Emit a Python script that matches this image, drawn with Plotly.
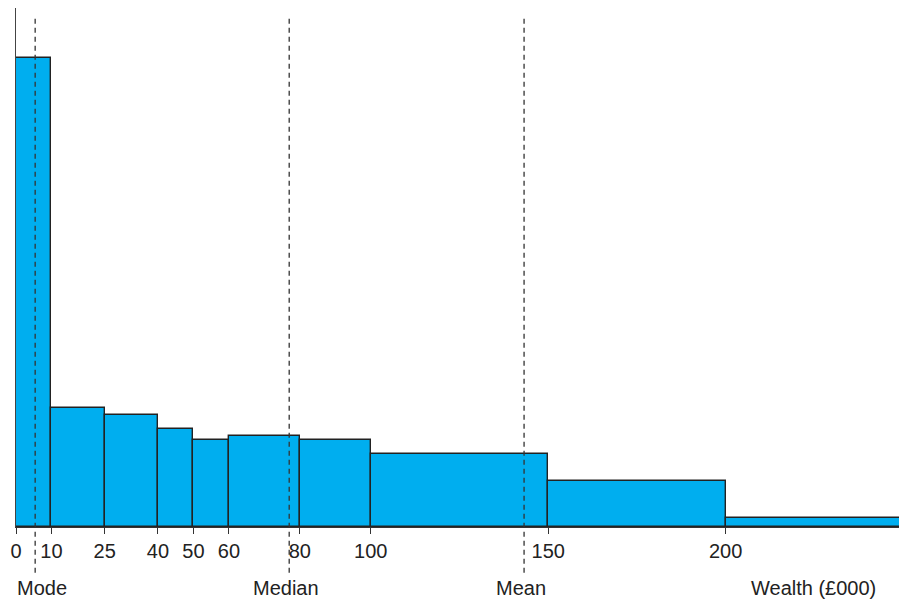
import plotly.graph_objects as go

# Bin edges (£000) and bar heights (frequency density, arbitrary units)
edges = [0, 10, 25, 40, 50, 60, 80, 100, 150, 200, 250]
heights = [47.0, 11.9, 11.2, 9.8, 8.7, 9.15, 8.7, 7.3, 4.6, 0.95]
tick_labels = ["0", "10", "25", "40", "50", "60", "80", "100", "150", "200", ""]

# Summary statistics (£000)
stat_names = ["Mode", "Median", "Mean"]
stat_values = [5.4, 77.0, 143.2]
label_positions = [7.2, 76.1, 142.3]
axis_title = "Wealth (£000)"
axis_title_pos = 224.9

X_RANGE = [0, 250]
Y_RANGE = [0, 52]

centers = [(a + b) / 2 for a, b in zip(edges[:-1], edges[1:])]
widths = [b - a for a, b in zip(edges[:-1], edges[1:])]

FONT = "Liberation Sans, Arial, Helvetica, sans-serif"

fig = go.Figure()
fig.add_trace(go.Bar(
    x=centers, y=heights, width=widths,
    marker=dict(color="#00AEEF", line=dict(color="#222222", width=1.4)),
    cliponaxis=False, hoverinfo="skip", showlegend=False,
))

shapes = []
for v in stat_values:
    shapes.append(dict(type="line", xref="x", yref="paper",
                       x0=v, x1=v, y0=-0.088, y1=0.983,
                       line=dict(color="#333333", width=1.3, dash="5px,4px")))

annotations = []
for name, pos in zip(stat_names, label_positions):
    annotations.append(dict(x=pos, y=-0.118, xref="x", yref="paper",
                            text=name, showarrow=False, xanchor="center",
                            yanchor="middle",
                            font=dict(family=FONT, size=20, color="#222222")))
annotations.append(dict(x=axis_title_pos, y=-0.118, xref="x", yref="paper",
                        text=axis_title, showarrow=False, xanchor="center",
                        yanchor="middle",
                        font=dict(family=FONT, size=20, color="#222222")))

# page body has an 8px margin, so the figure is sized to fit inside it
fig.update_layout(
    width=899, height=594,
    margin=dict(l=8, r=4, t=0, b=75),
    paper_bgcolor="white", plot_bgcolor="white",
    bargap=0,
    shapes=shapes, annotations=annotations,
    xaxis=dict(range=X_RANGE, tickvals=edges, ticktext=tick_labels,
               ticks="outside", ticklen=6, tickwidth=1.2, tickcolor="#333333",
               showline=True, linecolor="#333333", linewidth=1.4,
               showgrid=False, zeroline=False, automargin=False,
               tickfont=dict(family=FONT, size=20, color="#222222")),
    yaxis=dict(range=Y_RANGE, showline=True, linecolor="#444444", linewidth=1.4,
               showticklabels=False, ticks="", showgrid=False, zeroline=False,
               automargin=False),
)

fig.write_html("out.html")
